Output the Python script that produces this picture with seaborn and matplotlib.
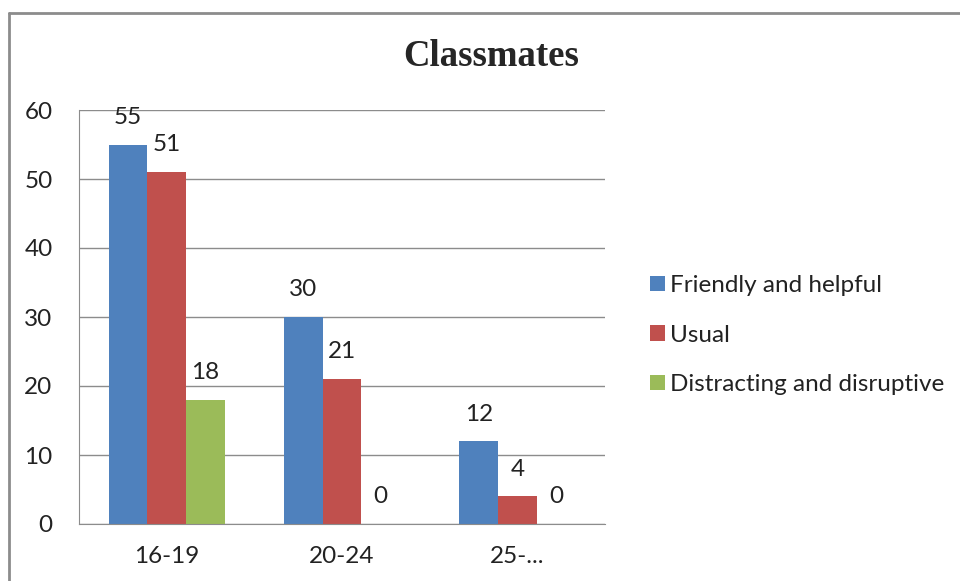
import matplotlib
matplotlib.use("Agg")
import matplotlib.pyplot as plt
from matplotlib.lines import Line2D
import seaborn as sns
import pandas as pd

# Survey responses about classmates, by age group
age_groups = ["16-19", "20-24", "25-..."]
series_names = ["Friendly and helpful", "Usual", "Distracting and disruptive"]
friendly = [55, 30, 12]
usual = [51, 21, 4]
distracting = [18, 0, 0]
y_ticks = [0, 10, 20, 30, 40, 50, 60]

colors = ["#4F81BD", "#C0504D", "#9BBB59"]

rows = []
for name, vals in zip(series_names, [friendly, usual, distracting]):
    for g, v in zip(age_groups, vals):
        rows.append({"Age": g, "Response": name, "Count": v})
df = pd.DataFrame(rows)

sns.set_style("white")
plt.rcParams["font.family"] = ["Lato", "DejaVu Sans"]
FS = 17.5

fig = plt.figure(figsize=(9.6, 5.81), dpi=100)
ax = fig.add_axes([79 / 960, 57 / 581, 526 / 960, 414 / 581])

sns.barplot(data=df, x="Age", y="Count", hue="Response", order=age_groups,
            hue_order=series_names, palette=colors, width=0.66, gap=0,
            saturation=1, errorbar=None, ax=ax, linewidth=0)

for cont in ax.containers:
    ax.bar_label(cont, labels=[f"{int(v)}" for v in cont.datavalues],
                 padding=12, fontsize=FS, color="#222222")

ax.set_xlim(-0.5, 2.5)
ax.set_ylim(0, 60)
ax.set_yticks(y_ticks)
ax.set_xlabel("")
ax.set_ylabel("")
ax.yaxis.grid(True, color="#8c8c8c", linewidth=1)
ax.set_axisbelow(True)
for side in ["top", "right"]:
    ax.spines[side].set_visible(False)
ax.spines["left"].set_color("#8c8c8c")
ax.spines["bottom"].set_color("#8c8c8c")
ax.tick_params(axis="both", length=0, labelsize=FS, colors="#222222")
ax.tick_params(axis="x", pad=16)
ax.tick_params(axis="y", pad=19)

ax.legend(loc="center left", bbox_to_anchor=(640 / 960, 1 - 335 / 581),
          bbox_transform=fig.transFigure, frameon=False, fontsize=FS,
          handlelength=0.62, handleheight=0.62, handletextpad=0.22,
          labelspacing=1.17, borderaxespad=0)
for t in ax.get_legend().get_texts():
    t.set_color("#222222")

fig.text(491 / 960, 1 - 57 / 581, "Classmates", ha="center", va="center",
         fontsize=26.5, fontweight="bold", family="Liberation Serif")

# outer chart frame
fig.add_artist(Line2D([9 / 960, 1], [1 - 13 / 581, 1 - 13 / 581],
                      transform=fig.transFigure, color="#8c8c8c", linewidth=2))
fig.add_artist(Line2D([9 / 960, 9 / 960], [0, 1 - 13 / 581],
                      transform=fig.transFigure, color="#8c8c8c", linewidth=2))

fig.savefig("out.png", dpi=100, facecolor="white")
